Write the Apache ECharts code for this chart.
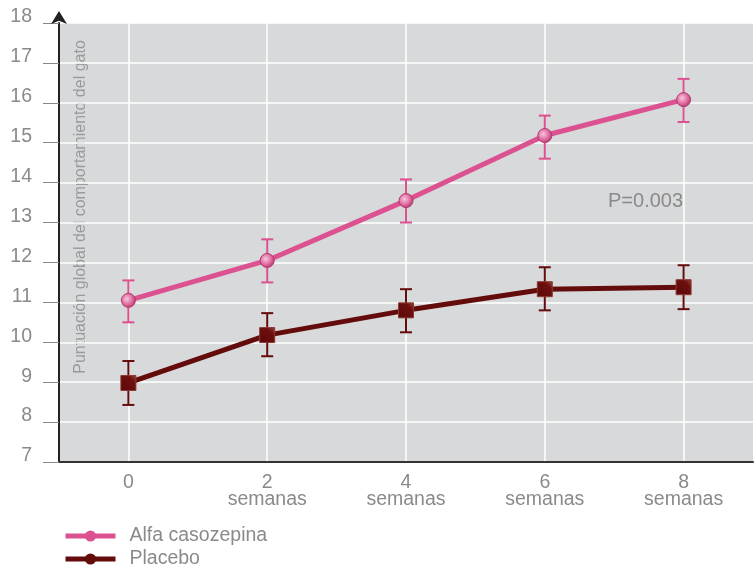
<!DOCTYPE html>
<html>
<head>
<meta charset="utf-8">
<title>Puntuación global</title>
<script src="https://cdn.jsdelivr.net/npm/echarts@6/dist/echarts.min.js"></script>
<style>
  html, body { margin: 0; padding: 0; background: #fff; }
  #main { width: 756px; height: 569px; }
</style>
</head>
<body>
<div id="main"></div>
<script type="text/javascript">
// datos
var semanas = ['0', '2\nsemanas', '4\nsemanas', '6\nsemanas', '8\nsemanas'];
var alfa = [11.05, 12.05, 13.55, 15.18, 16.08];
var alfaBajo = [10.5, 11.5, 13.0, 14.6, 15.52];
var alfaAlto = [11.55, 12.58, 14.08, 15.68, 16.6];
var placebo = [8.98, 10.18, 10.8, 11.33, 11.38];
var placeboBajo = [8.43, 9.65, 10.25, 10.8, 10.83];
var placeboAlto = [9.53, 10.73, 11.33, 11.88, 11.93];

var rosa = '#dc5190';
var granate = '#640b0b';
var gris = '#8a8a8a';
var fuente = 'Liberation Sans, Arial, sans-serif';

var myChart = echarts.init(document.getElementById('main'));

// barras de error (linea vertical + topes)
function barrasError(bajo, alto, color) {
  return {
    type: 'custom',
    silent: true,
    z: 3,
    data: bajo.map(function (v, i) { return [i, v, alto[i]]; }),
    renderItem: function (params, api) {
      var a = api.coord([api.value(0), api.value(1)]);
      var b = api.coord([api.value(0), api.value(2)]);
      var w = 6;
      var st = { stroke: color, lineWidth: 2 };
      return {
        type: 'group',
        children: [
          { type: 'line', shape: { x1: a[0], y1: a[1], x2: b[0], y2: b[1] }, style: st },
          { type: 'line', shape: { x1: a[0] - w, y1: a[1], x2: a[0] + w, y2: a[1] }, style: st },
          { type: 'line', shape: { x1: b[0] - w, y1: b[1], x2: b[0] + w, y2: b[1] }, style: st }
        ]
      };
    }
  };
}

function leyenda(nombre, top) {
  return {
    left: 63, top: top, padding: 0,
    itemWidth: 50, itemHeight: 14,
    lineStyle: { width: 5 },
    textStyle: { color: gris, fontSize: 19.5, fontFamily: fuente, padding: [0, 0, 0, 9] },
    data: [nombre]
  };
}

var option = {
  animation: false,
  textStyle: { fontFamily: fuente },
  grid: {
    left: 59, right: 3, top: 23, bottom: 107,
    show: true, backgroundColor: '#d8d9db', borderWidth: 0
  },
  legend: [leyenda('Alfa casozepina', 526), leyenda('Placebo', 549)],
  xAxis: {
    type: 'category',
    data: semanas,
    axisLine: { lineStyle: { color: '#333', width: 2 } },
    axisTick: { show: false },
    axisLabel: { color: gris, fontSize: 19.5, lineHeight: 17, margin: 12 },
    splitLine: { show: true, alignWithLabel: true, lineStyle: { color: '#fff', width: 1.5 } }
  },
  yAxis: {
    type: 'value',
    min: 7, max: 18, interval: 1,
    axisLine: {
      show: true, symbol: ['none', 'arrow'], symbolSize: [12, 13], symbolOffset: [0, 12],
      lineStyle: { color: '#222', width: 2 }
    },
    axisTick: { show: true, length: 16, lineStyle: { color: '#888', width: 1 } },
    axisLabel: { color: gris, fontSize: 19.5, margin: 27, verticalAlign: 'bottom', lineHeight: 12 },
    splitLine: { lineStyle: { color: '#fff', width: 1.5 } }
  },
  graphic: [
    {
      type: 'text', x: 81, y: 207, rotation: Math.PI / 2,
      style: {
        text: 'Puntuación global del comportamiento del gato',
        fill: '#9a9a9a', fontSize: 16, fontFamily: fuente,
        align: 'center', verticalAlign: 'middle'
      }
    },
    {
      type: 'text', left: 608, top: 191,
      style: { text: 'P=0.003', fill: gris, fontSize: 20, fontFamily: fuente }
    }
  ],
  series: [
    // solo para la leyenda (simbolo circular en ambas)
    { name: 'Alfa casozepina', type: 'line', data: [], symbol: 'circle', color: rosa, lineStyle: { width: 5 } },
    { name: 'Placebo', type: 'line', data: [], symbol: 'circle', color: granate, lineStyle: { width: 5 } },
    barrasError(alfaBajo, alfaAlto, rosa),
    barrasError(placeboBajo, placeboAlto, granate),
    {
      name: 'Alfa casozepina', type: 'line', data: alfa, z: 4,
      symbol: 'circle', symbolSize: 14,
      color: rosa,
      lineStyle: { width: 5, color: rosa },
      itemStyle: {
        color: new echarts.graphic.RadialGradient(0.4, 0.4, 0.6, [
          { offset: 0, color: '#f7c6dc' },
          { offset: 0.6, color: '#e06fa2' },
          { offset: 1, color: '#b83c72' }
        ]),
        borderColor: '#b3386d', borderWidth: 1
      }
    },
    {
      name: 'Placebo', type: 'line', data: placebo, z: 4,
      symbol: 'rect', symbolSize: 15,
      color: granate,
      lineStyle: { width: 5, color: granate },
      itemStyle: {
        color: new echarts.graphic.LinearGradient(1, 0, 0, 1, [
          { offset: 0, color: '#9a4a40' },
          { offset: 0.3, color: '#6e0f0f' },
          { offset: 1, color: '#5a0808' }
        ]),
        borderColor: '#8a3a32', borderWidth: 1
      }
    }
  ]
};

myChart.setOption(option);
</script>
</body>
</html>
